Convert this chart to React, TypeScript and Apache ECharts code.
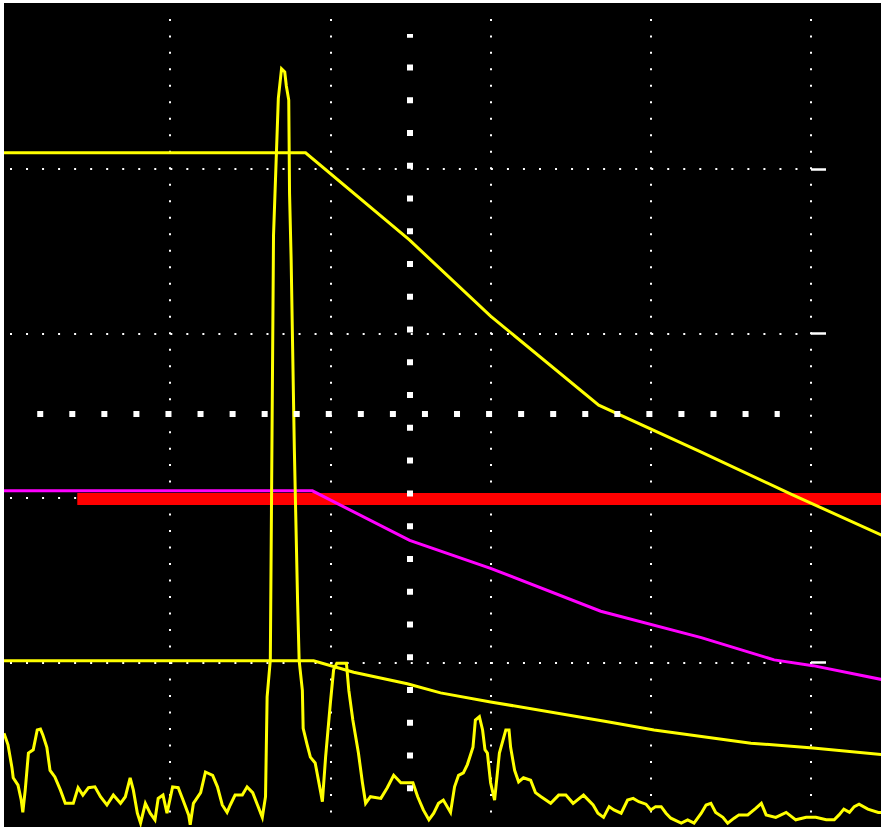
import React, { useEffect, useRef } from "react";
import * as echarts from "echarts";

// Spectrum trace (x: frequency in % of span, y: level in % of screen height)
const traceFreq = [-0.75,-0.25,0.25,0.4,1.0,1.4,1.6,1.9,2.3,2.9,3.4,3.8,4.1,4.6,5.0,5.6,6.3,6.9,7.9,8.5,9.1,9.8,10.6,11.3,12.1,12.9,13.8,14.4,15.0,15.4,15.9,16.3,16.9,17.5,18.1,18.5,19.1,19.6,20.3,21.0,21.6,22.3,22.5,22.9,23.8,24.4,25.3,25.9,26.5,27.1,27.5,28.1,29.0,29.6,30.3,30.9,31.5,31.9,32.1,32.5,32.9,33.5,33.9,34.3,34.5,34.8,34.9,35.1,35.5,35.9,36.1,36.5,36.6,37.1,37.5,38.1,38.8,39.0,39.4,40.0,40.4,40.8,42.0,42.3,42.8,43.5,44.0,44.4,45.0,46.3,47.1,47.9,48.8,50.3,50.9,51.6,52.3,52.9,53.5,54.1,55.0,55.5,56.0,56.6,57.1,57.8,58.1,58.6,59.0,59.3,59.6,60.0,60.5,61.1,61.9,62.3,62.5,63.0,63.5,64.1,65.0,65.6,66.3,67.5,68.5,69.4,70.3,71.6,72.8,73.4,74.1,74.8,75.4,76.3,77.1,77.8,78.5,79.4,80.0,80.6,81.3,81.9,82.5,83.8,84.6,85.4,86.3,86.9,87.5,88.1,89.0,89.6,90.4,91.0,92.1,93.1,93.8,94.4,95.6,96.9,98.1,99.4,100.6,101.9,102.9,103.5,104.1,104.8,105.4,106.0,107.1,108.4,108.9];
const traceLevel = [11.6,10.2,7.4,6.2,5.3,3.5,2.0,4.7,9.2,9.6,12.0,12.1,11.4,9.9,7.1,6.3,4.7,3.1,3.1,5.0,4.1,5.0,5.1,3.9,2.9,4.1,3.1,3.9,6.2,4.7,1.9,0.7,3.1,1.9,1.1,3.7,4.1,1.9,5.1,5.0,3.5,1.7,0.5,3.1,4.4,6.9,6.5,5.1,2.9,2.0,2.9,4.1,4.1,5.1,4.4,2.9,1.4,3.9,16.0,20.5,72.0,88.6,92.2,91.8,90.1,88.4,77.1,69.0,46.0,27.8,20.4,16.8,12.2,10.2,8.7,8.0,4.4,3.3,8.7,15.3,19.3,20.1,20.1,16.8,13.2,9.2,5.6,3.1,3.9,3.7,5.0,6.5,5.6,5.6,3.9,2.3,1.1,1.9,3.1,3.5,2.0,5.1,6.5,6.8,7.8,9.9,13.2,13.6,12.0,9.6,9.2,5.6,3.5,9.2,12.0,12.0,9.9,7.1,5.7,6.2,5.9,4.4,3.9,3.1,4.1,4.1,3.1,4.1,2.9,1.9,1.4,2.7,2.3,1.9,3.5,3.7,3.3,3.0,2.3,2.7,2.7,1.9,1.3,0.7,1.1,0.7,1.9,2.9,3.1,2.0,1.4,0.7,1.3,1.7,1.7,2.5,3.1,1.7,1.4,2.0,1.1,1.4,1.4,1.1,1.1,1.7,2.4,2.0,2.7,3.0,2.4,2.0,2.0];

// Upper yellow limit line
const upperLimitFreq = [-0.75, 36.9, 49.9, 60.0, 73.5, 86.3, 97.5, 108.9];
const upperLimitLevel = [82.0, 82.0, 71.4, 62.2, 51.4, 45.7, 40.6, 35.6];

// Magenta limit line
const midLimitFreq = [-0.75, 37.75, 49.9, 60.0, 73.75, 86.3, 95.4, 100.25, 108.9];
const midLimitLevel = [41.0, 41.0, 35.0, 31.6, 26.4, 23.2, 20.5, 19.8, 18.1];

// Lower yellow limit line
const lowerLimitFreq = [-0.75, 37.9, 42.9, 49.6, 53.75, 60.0, 74.6, 80.4, 92.5, 100.25, 108.9];
const lowerLimitLevel = [20.4, 20.4, 19.0, 17.6, 16.5, 15.4, 13.0, 12.0, 10.4, 9.8, 9.0];

// Red reference band
const refFreq = [8.4, 108.9];
const refLevel = 40;

// Graticule
const gridTicks = [0, 20, 40, 60, 80, 100];
const rightTicks = [20, 40, 60, 80];
// Visible extent of the screen in the same units
const screenFreq = [-0.749, 108.74];
const screenLevel = [0.23, 100.17];

const zip = (xs: number[], ys: number[]) => xs.map((x, i) => [x, ys[i]]);

export default function App() {
  const ref = useRef<HTMLDivElement>(null);
  useEffect(() => {
    const chart = echarts.init(ref.current!, null, { renderer: "svg" });
    const white = "#ffffff";
    const hidden = {
      axisLine: { show: false },
      axisTick: { show: false },
      axisLabel: { show: false },
      splitLine: { show: false },
    };
    const dataSeries = (data: number[][], color: string, width: number) => ({
      type: "line",
      xAxisIndex: 1,
      yAxisIndex: 1,
      data,
      symbol: "none",
      clip: false,
      silent: true,
      lineStyle: { color, width, cap: "butt", join: "miter" },
    });
    chart.setOption({
      animation: false,
      backgroundColor: "#000000",
      grid: [
        { left: 6, top: 1.4, width: 801, height: 824.5, containLabel: false },
        { left: 0, top: 0, width: 877, height: 824, containLabel: false },
      ],
      xAxis: [
        {
          type: "value",
          gridIndex: 0,
          min: gridTicks[0],
          max: gridTicks[gridTicks.length - 1],
          interval: 20,
          axisLine: { show: false },
          axisTick: { show: false },
          axisLabel: { show: false },
          splitLine: {
            show: true,
            showMinLine: false,
            showMaxLine: true,
            lineStyle: { color: white, width: 2, type: [2, 14.49], dashOffset: 2.01, cap: "butt" },
          },
        },
        { type: "value", gridIndex: 1, min: screenFreq[0], max: screenFreq[1], ...hidden },
      ],
      yAxis: [
        {
          type: "value",
          gridIndex: 0,
          min: gridTicks[0],
          max: gridTicks[gridTicks.length - 1],
          interval: 20,
          axisLine: { show: false, onZero: false },
          axisTick: { show: false },
          axisLabel: { show: false },
          splitLine: {
            show: true,
            showMinLine: false,
            showMaxLine: false,
            lineStyle: { color: white, width: 2, type: [2, 14.03], dashOffset: 0, cap: "butt" },
          },
        },
        { type: "value", gridIndex: 1, min: screenLevel[0], max: screenLevel[1], ...hidden },
        {
          type: "value",
          gridIndex: 0,
          position: "right",
          min: gridTicks[0],
          max: gridTicks[gridTicks.length - 1],
          interval: 20,
          axisLine: { show: false, onZero: false },
          axisTick: {
            show: true,
            inside: false,
            length: 15,
            customValues: rightTicks,
            lineStyle: { color: white, width: 2.5 },
          },
          axisLabel: { show: false },
          splitLine: { show: false },
        },
      ],
      series: [
        {
          type: "line",
          xAxisIndex: 0,
          yAxisIndex: 0,
          data: [[50, 50]],
          symbol: "none",
          lineStyle: { opacity: 0 },
          silent: true,
          markLine: {
            silent: true,
            symbol: ["none", "none"],
            label: { show: false },
            lineStyle: { color: white, width: 6, type: [6, 26.76], dashOffset: 0, cap: "butt" },
            emphasis: { disabled: true },
            data: [[{ coord: [49.9, 4.35] }, { coord: [49.9, 96.4] }]],
          },
        },
        {
          type: "line",
          xAxisIndex: 0,
          yAxisIndex: 0,
          data: [[50, 50]],
          symbol: "none",
          lineStyle: { opacity: 0 },
          silent: true,
          markLine: {
            silent: true,
            symbol: ["none", "none"],
            label: { show: false },
            lineStyle: { color: white, width: 6, type: [6, 26.06], dashOffset: 0, cap: "butt" },
            emphasis: { disabled: true },
            data: [[{ coord: [3.4, 50.2] }, { coord: [96.1, 50.2] }]],
          },
        },
        dataSeries(refFreq.map((f) => [f, refLevel]), "#ff0000", 12),
        dataSeries(zip(midLimitFreq, midLimitLevel), "#ff00ff", 3),
        dataSeries(zip(upperLimitFreq, upperLimitLevel), "#ffff00", 3),
        dataSeries(zip(lowerLimitFreq, lowerLimitLevel), "#ffff00", 3),
        dataSeries(zip(traceFreq, traceLevel), "#ffff00", 3),
      ],
    });
    return () => chart.dispose();
  }, []);
  return (
    <div
      ref={ref}
      style={{ position: "fixed", left: 4, top: 3, width: 877, height: 824, background: "#000000" }}
    />
  );
}
